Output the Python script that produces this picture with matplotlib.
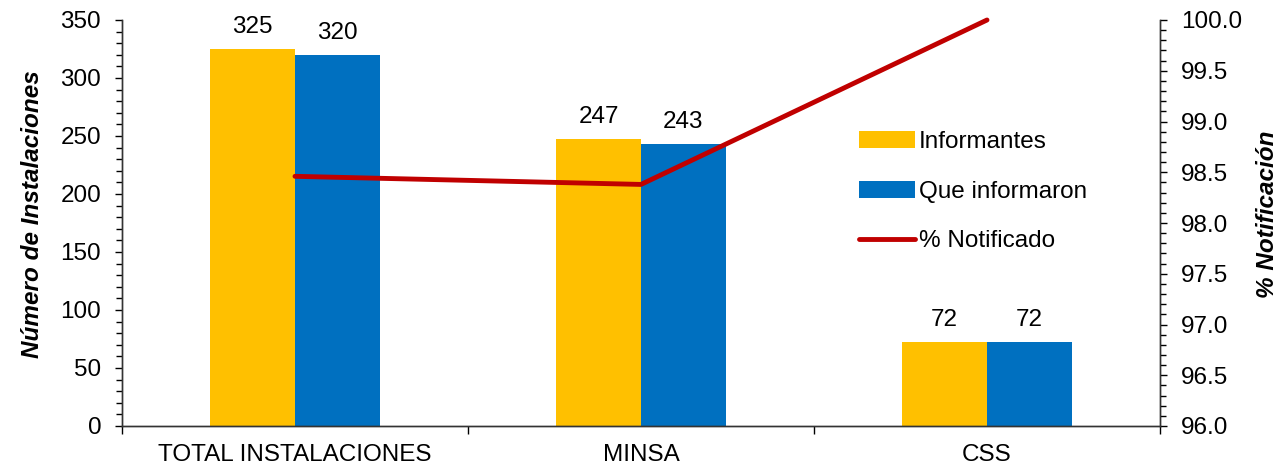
import matplotlib
matplotlib.use("Agg")
import matplotlib.pyplot as plt
import numpy as np
from matplotlib.ticker import MultipleLocator, FormatStrFormatter, FixedLocator

plt.rcParams['font.family'] = ['Liberation Sans', 'DejaVu Sans']

categories = ["TOTAL INSTALACIONES", "MINSA", "CSS"]
informantes = [325, 247, 72]
que_informaron = [320, 243, 72]
pct_notificado = [98.46, 98.38, 100.0]

FS = 17.5

fig = plt.figure(figsize=(12.88, 4.67), dpi=100)
ax = fig.add_axes([122/1288, 1-426/467, (1160-122)/1288, (426-20)/467])
ax2 = ax.twinx()

x = np.arange(len(categories))
w = 0.245
b1 = ax.bar(x - w/2, informantes, width=w, color="#FFC000", label="Informantes", zorder=2)
b2 = ax.bar(x + w/2, que_informaron, width=w, color="#0070C0", label="Que informaron", zorder=2)
for bars in (b1, b2):
    ax.bar_label(bars, padding=8, fontsize=FS)

ln, = ax2.plot(x, pct_notificado, color="#C00000", lw=3.5, label="% Notificado",
               solid_capstyle="round", clip_on=False)

ax.set_xlim(-0.5, 2.5)
ax.set_ylim(0, 350)
ax2.set_ylim(96, 100)

ax.yaxis.set_major_locator(MultipleLocator(50))
ax.yaxis.set_minor_locator(MultipleLocator(10))
ax2.yaxis.set_major_locator(MultipleLocator(0.5))
ax2.yaxis.set_minor_locator(MultipleLocator(0.1))
ax2.yaxis.set_major_formatter(FormatStrFormatter("%.1f"))

ax.set_xticks(x)
ax.set_xticklabels(categories)
ax.xaxis.set_minor_locator(FixedLocator([-0.5, 0.5, 1.5, 2.5]))
ax.tick_params(axis='x', which='major', length=0, labelsize=FS, pad=13)
ax.tick_params(axis='x', which='minor', length=6, width=1)
ax.tick_params(axis='y', which='major', length=5, width=1, labelsize=FS, pad=10)
ax.tick_params(axis='y', which='minor', length=4, width=1)
ax2.tick_params(axis='y', which='major', length=5, width=1, labelsize=FS, pad=10)
ax2.tick_params(axis='y', which='minor', length=4, width=1)

for a in (ax, ax2):
    a.spines['top'].set_visible(False)
    for s in ('left', 'right', 'bottom'):
        a.spines[s].set_linewidth(1)
        a.spines[s].set_color("#333333")

ax.set_ylabel("Número de Instalaciones", fontsize=17.5, fontweight='bold', fontstyle='italic',
              labelpad=12, y=0.522)
ax2.set_ylabel("% Notificación", fontsize=17.5, fontweight='bold', fontstyle='italic',
               labelpad=10, y=0.522)

handles = [b1, b2, ln]
leg = ax.legend(handles, [h.get_label() for h in handles], loc='upper left',
                bbox_to_anchor=((859-122)/(1160-122), (426-131)/(426-20)),
                frameon=False, fontsize=FS, handlelength=2.3, handleheight=0.7,
                handletextpad=0.15, labelspacing=1.14, borderaxespad=0, borderpad=0)

fig.savefig("out.png", dpi=100)
